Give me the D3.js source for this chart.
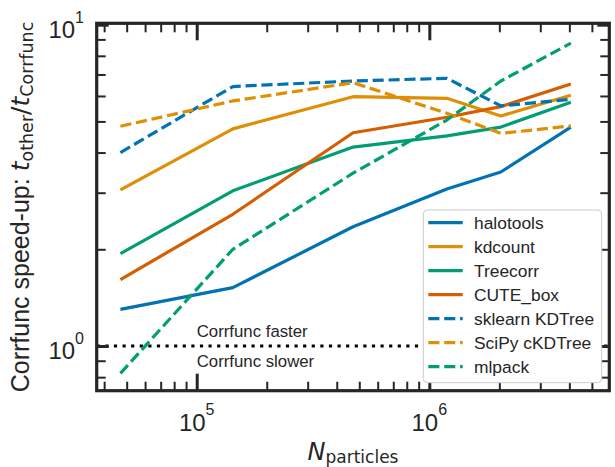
<!DOCTYPE html>
<html><head><meta charset="utf-8">
<script src="https://cdn.jsdelivr.net/npm/d3@7"></script>
<style>body{margin:0;background:#fff}svg{display:block}</style>
</head><body>
<svg id="c" width="615" height="467"></svg>
<script>
const N = [4.7e4, 1.43e5, 4.7e5, 1.19e6, 2.03e6, 4.06e6];
const halotools = [1.30, 1.52, 2.35, 3.08, 3.48, 4.80];
const kdcount   = [3.06, 4.74, 5.97, 5.90, 5.20, 6.03];
const treecorr  = [1.94, 3.04, 4.16, 4.51, 4.80, 5.74];
const cuteBox   = [1.61, 2.57, 4.61, 5.15, 5.56, 6.54];
const sklearn   = [4.00, 6.42, 6.68, 6.81, 5.59, 5.86];
const scipy     = [4.83, 5.79, 6.60, 5.30, 4.59, 4.84];
const mlpack    = [0.822, 2.00, 3.45, 5.05, 6.68, 8.76];
const seriesNames = ["halotools","kdcount","Treecorr","CUTE_box","sklearn KDTree","SciPy cKDTree","mlpack"];
const seriesValues = [halotools, kdcount, treecorr, cuteBox, sklearn, scipy, mlpack];
const seriesColors = ["#0173b2","#de8f05","#029e73","#d55e00","#0173b2","#de8f05","#029e73"];
const seriesDashed = [false,false,false,false,true,true,true];
const xMajor = [1e5, 1e6];
const xMinor = [4e4,5e4,6e4,7e4,8e4,9e4,2e5,3e5,4e5,5e5,6e5,7e5,8e5,9e5,2e6,3e6,4e6,5e6];
const yMajor = [1, 10];
const yMinor = [0.8,0.9,2,3,4,5,6,7,8,9];
const xTickLabels = [["10","5"],["10","6"]];
const yTickLabels = [["10","0"],["10","1"]];

const svg = d3.select("#c");
const L = 96.7, R = 609.3, T = 23.3, B = 390.7;
const x = d3.scaleLog().domain([37160, 5.94e6]).range([L, R]);
const y = d3.scaleLog().domain([0.726, 10.1]).range([B, T]);
const ink = "#262626";
const AR = "'Liberation Sans', Arial, sans-serif";
const DV = "'DejaVu Sans', sans-serif";

// y=1 dotted reference line
svg.append("line").attr("x1", L).attr("x2", R).attr("y1", y(1)).attr("y2", y(1))
  .attr("stroke", "#000").attr("stroke-width", 3.2).attr("stroke-dasharray", "3.2,5.4");

svg.append("text").attr("x", x(1e5)).attr("y", 336.5).attr("font-family", AR).attr("font-size", 16.8)
  .attr("fill", ink).text("Corrfunc faster");
svg.append("text").attr("x", x(1e5)).attr("y", 366.5).attr("font-family", AR).attr("font-size", 16.8)
  .attr("fill", ink).text("Corrfunc slower");

// lines
const line = d3.line().x((d, i) => x(N[i])).y(d => y(d));
seriesValues.forEach((vals, k) => {
  svg.append("path").datum(vals).attr("d", line).attr("fill", "none")
    .attr("stroke", seriesColors[k]).attr("stroke-width", 3.2)
    .attr("stroke-linejoin", "round")
    .attr("stroke-dasharray", seriesDashed[k] ? "11.1,4.8" : null);
});

// axes ticks (inward, all four sides)
function tickAxis(gen, tx, ty, vals, size, width) {
  const g = svg.append("g").attr("transform", `translate(${tx},${ty})`)
    .call(gen.tickValues(vals).tickSize(size).tickFormat(""));
  g.select(".domain").remove();
  g.selectAll("line").attr("stroke", ink).attr("stroke-width", width);
}
tickAxis(d3.axisBottom(x), 0, B, xMinor, -9, 2);
tickAxis(d3.axisBottom(x), 0, B, xMajor, -17, 3);
tickAxis(d3.axisTop(x), 0, T, xMinor, -9, 2);
tickAxis(d3.axisTop(x), 0, T, xMajor, -17, 3);
tickAxis(d3.axisLeft(y), L, 0, yMinor, -9, 2);
tickAxis(d3.axisLeft(y), L, 0, yMajor, -12, 3);
tickAxis(d3.axisRight(y), R, 0, yMinor, -9, 2);
tickAxis(d3.axisRight(y), R, 0, yMajor, -12, 3);

// spines
svg.append("rect").attr("x", L).attr("y", T).attr("width", R - L).attr("height", B - T)
  .attr("fill", "none").attr("stroke", ink).attr("stroke-width", 3.2);

// tick labels
xMajor.forEach((v, i) => {
  const t = svg.append("text").attr("x", x(v)).attr("y", 431).attr("text-anchor", "middle")
    .attr("font-family", AR).attr("fill", ink);
  t.append("tspan").attr("font-size", 24).text(xTickLabels[i][0]);
  t.append("tspan").attr("font-size", 16).attr("dy", -16).text(xTickLabels[i][1]);
});
yMajor.forEach((v, i) => {
  const t = svg.append("text").attr("x", 84).attr("y", y(v) + 13.3).attr("text-anchor", "end")
    .attr("font-family", AR).attr("fill", ink);
  t.append("tspan").attr("font-size", 24).text(yTickLabels[i][0]);
  t.append("tspan").attr("font-size", 16).attr("dy", -15).text(yTickLabels[i][1]);
});

// axis labels
const xl = svg.append("text").attr("x", (L + R) / 2).attr("y", 460).attr("text-anchor", "middle")
  .attr("font-family", DV).attr("fill", ink);
xl.append("tspan").attr("font-size", 24).attr("font-style", "italic").text("N");
xl.append("tspan").attr("font-size", 17).attr("dy", 2.5).text("particles");

const yl = svg.append("text").attr("transform", `translate(28.5,${(T + B) / 2}) rotate(-90)`)
  .attr("text-anchor", "middle").attr("fill", ink);
yl.append("tspan").attr("font-family", AR).attr("font-size", 25).text("Corrfunc speed-up: ");
yl.append("tspan").attr("font-family", DV).attr("font-size", 25).attr("font-style", "italic").text("t");
yl.append("tspan").attr("font-family", DV).attr("font-size", 17.5).attr("dy", 4).text("other");
yl.append("tspan").attr("font-family", DV).attr("font-size", 25).attr("dy", -4).text("/");
yl.append("tspan").attr("font-family", DV).attr("font-size", 25).attr("font-style", "italic").text("t");
yl.append("tspan").attr("font-family", DV).attr("font-size", 17.5).attr("dy", 4).text("Corrfunc");

// legend
const lg = svg.append("g");
lg.append("rect").attr("x", 423.3).attr("y", 210).attr("width", 178.4).attr("height", 172.7)
  .attr("rx", 4).attr("fill", "#fff").attr("stroke", "#cccccc").attr("stroke-width", 1);
seriesNames.forEach((name, k) => {
  const cy = 222.7 + k * 24;
  lg.append("line").attr("x1", 428.3).attr("x2", 462.7).attr("y1", cy).attr("y2", cy)
    .attr("stroke", seriesColors[k]).attr("stroke-width", 3.2)
    .attr("stroke-dasharray", seriesDashed[k] ? "11.1,4.8" : null);
  lg.append("text").attr("x", 474).attr("y", cy + 6.2).attr("font-family", AR).attr("font-size", 17.4)
    .attr("fill", ink).text(name);
});
</script>
</body></html>
